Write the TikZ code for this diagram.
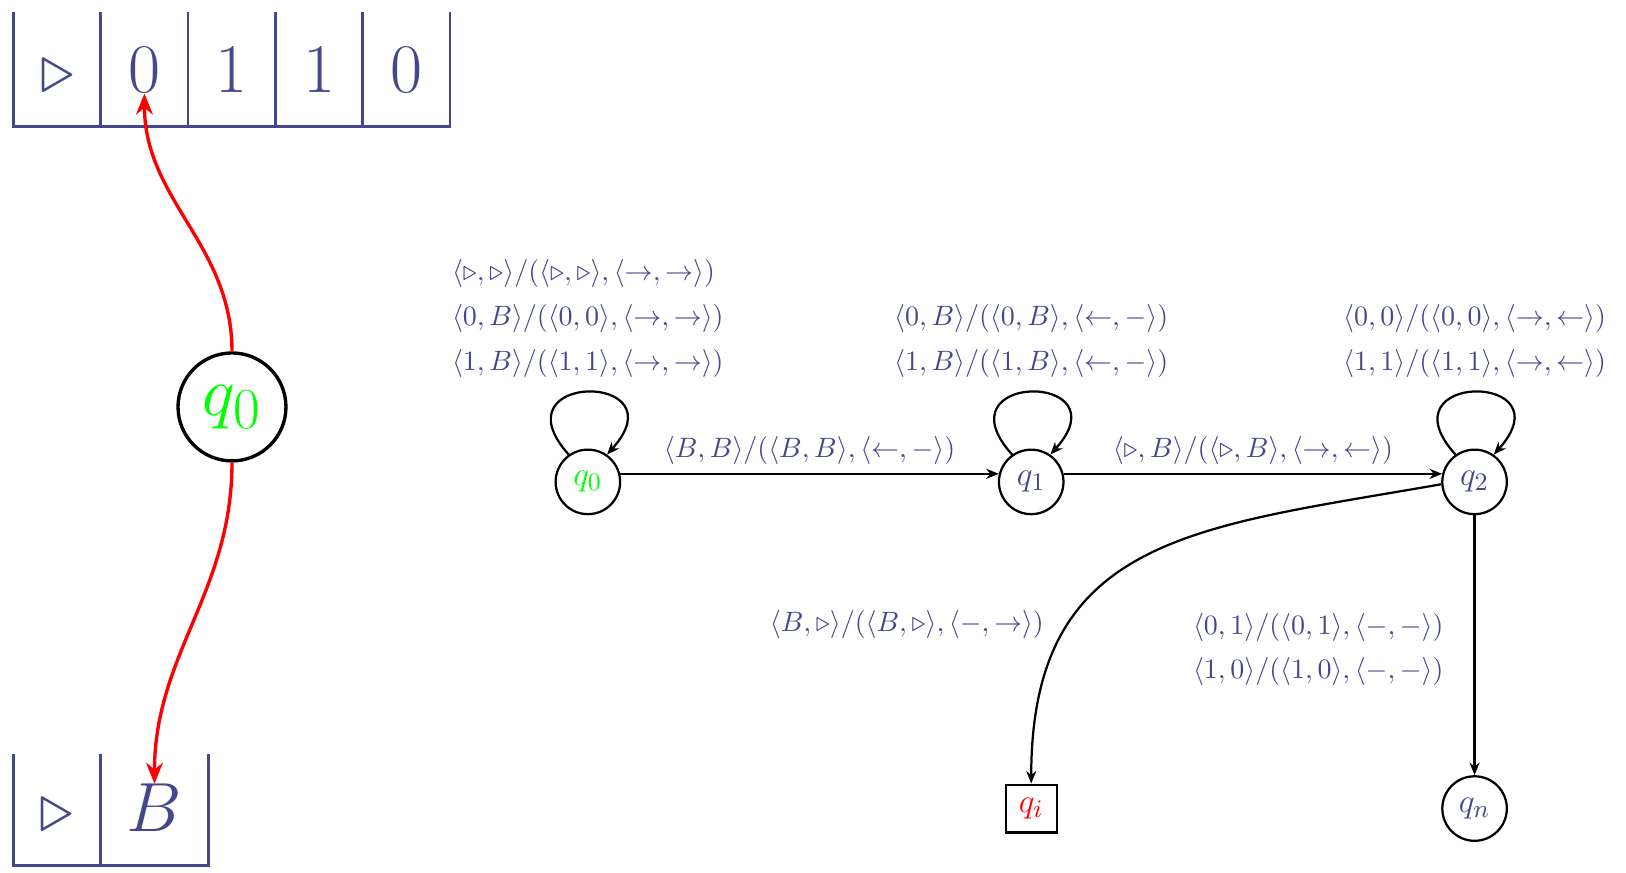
\documentclass[tikz,border=0pt]{standalone}
\usepackage{amsmath,amssymb}
\usepackage{xcolor}
\usepackage{tikz}
\usetikzlibrary{arrows.meta,positioning}
\definecolor{tapeblue}{RGB}{70,70,140}

\begin{document}
\begin{tikzpicture}[
    node distance=4.1cm and 5.565cm, on grid,
    state/.style={draw, circle, thick, minimum size=0.81cm, inner sep=0pt, font=\fontsize{13}{15}\selectfont, text=tapeblue},
    bigstate/.style={draw, circle, line width=1.2pt, minimum size=1.355cm, inner sep=0pt, font=\Huge, text=green},
    cell/.style={inner sep=0pt, anchor=base, font=\Huge, text=tapeblue},
    tape/.style={line width=1pt, tapeblue},
    arr/.style={-{Stealth[length=4.5pt, width=3.6pt]}, thick},
    headarr/.style={-{Stealth[length=7.5pt, width=6pt]}, line width=1.2pt, red},
    lbl/.style={align=left, text=tapeblue, inner sep=3pt},
]
\useasboundingbox (0,0) rectangle (20.41,-10.956);

% Input tape
\draw[tape] (0.169,-0.156) -- (0.169,-1.588) -- (5.648,-1.588) -- (5.648,-0.156);
\draw[tape] (1.265,-0.156) -- (1.265,-1.588);
\draw[tape] (2.360,-0.156) -- (2.360,-1.588);
\draw[tape] (3.457,-0.156) -- (3.457,-1.588);
\draw[tape] (4.555,-0.156) -- (4.555,-1.588);
\node[cell] (t0) at (0.717,-1.167) {$\triangleright$};
\node[cell] (t1) at (1.813,-1.167) {$0$};
\node[cell] (t2) at (2.909,-1.167) {$1$};
\node[cell] (t3) at (4.005,-1.167) {$1$};
\node[cell] (t4) at (5.101,-1.167) {$0$};

% Work tape
\draw[tape] (0.169,-9.463) -- (0.169,-10.868) -- (2.615,-10.868) -- (2.615,-9.463);
\draw[tape] (1.263,-9.463) -- (1.263,-10.868);
\node[cell] (w0) at (0.716,-10.442) {$\triangleright$};
\node[cell] (w1) at (1.939,-10.442) {$B$};

% Control with its two heads
\node[bigstate] (ctrl) at (2.912,-5.108) {$q_0$};
\draw[headarr] (ctrl) to[out=90,in=-90] (t1);
\draw[headarr] (ctrl) to[out=-90,in=90] (w1);

% States
\node[state, text=green] (q0) at (7.379,-6.049) {$q_0$};
\node[state, right=of q0] (q1) {$q_1$};
\node[state, right=of q1] (q2) {$q_2$};
\node[state, below=of q2] (qn) {$q_n$};
\node[state, rectangle, minimum width=0.64cm, minimum height=0.6cm, below=of q1, text=red] (qi) {$q_i$};

% Loops
\draw[arr] (q0.125) to[out=132,in=48,looseness=7.5] node[lbl, above=2pt] {$\langle\triangleright,\triangleright\rangle/(\langle\triangleright,\triangleright\rangle,\langle\rightarrow,\rightarrow\rangle)$\\[4pt]$\langle 0,B\rangle/(\langle 0,0\rangle,\langle\rightarrow,\rightarrow\rangle)$\\[4pt]$\langle 1,B\rangle/(\langle 1,1\rangle,\langle\rightarrow,\rightarrow\rangle)$} (q0.55);
\draw[arr] (q1.125) to[out=132,in=48,looseness=7.5] node[lbl, above=2pt] {$\langle 0,B\rangle/(\langle 0,B\rangle,\langle\leftarrow,-\rangle)$\\[4pt]$\langle 1,B\rangle/(\langle 1,B\rangle,\langle\leftarrow,-\rangle)$} (q1.55);
\draw[arr] (q2.125) to[out=132,in=48,looseness=7.5] node[lbl, above=2pt] {$\langle 0,0\rangle/(\langle 0,0\rangle,\langle\rightarrow,\leftarrow\rangle)$\\[4pt]$\langle 1,1\rangle/(\langle 1,1\rangle,\langle\rightarrow,\leftarrow\rangle)$} (q2.55);

% Transitions
\draw[arr] (q0.14) -- node[lbl, above] {$\langle B,B\rangle/(\langle B,B\rangle,\langle\leftarrow,-\rangle)$} (q1.166);
\draw[arr] (q1.14) -- node[lbl, above] {$\langle\triangleright,B\rangle/(\langle\triangleright,B\rangle,\langle\rightarrow,\leftarrow\rangle)$} (q2.166);
\draw[arr] (q2.184) to[out=190,in=90,looseness=1.25] node[lbl, pos=0.71, left=2.2mm, yshift=-1.1pt] {$\langle B,\triangleright\rangle/(\langle B,\triangleright\rangle,\langle -,\rightarrow\rangle)$} (qi);
\draw[arr] (q2) -- node[lbl, left=2.7mm, yshift=-1.5pt] {$\langle 0,1\rangle/(\langle 0,1\rangle,\langle -,-\rangle)$\\[4pt]$\langle 1,0\rangle/(\langle 1,0\rangle,\langle -,-\rangle)$} (qn);
\end{tikzpicture}
\end{document}
